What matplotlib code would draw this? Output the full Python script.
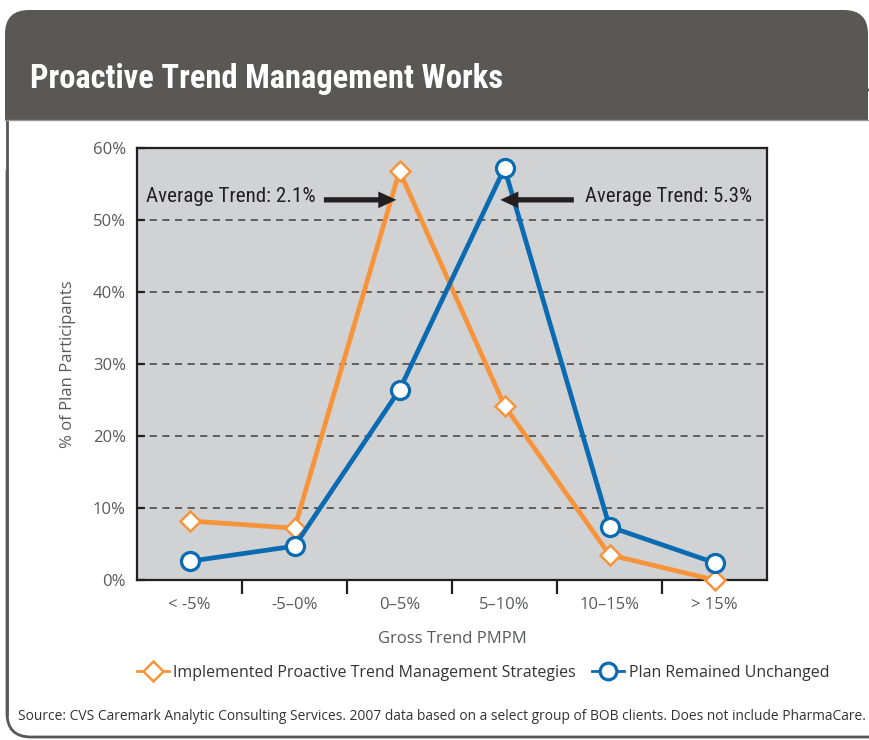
import matplotlib
matplotlib.use("Agg")
import matplotlib.pyplot as plt
from matplotlib.patches import FancyBboxPatch, Rectangle
from matplotlib.lines import Line2D
import matplotlib.font_manager as fm

categories = ["< -5%", "-5–0%", "0–5%", "5–10%", "10–15%", "> 15%"]
implemented = [8.2, 7.2, 56.8, 24.2, 3.5, 0.0]
unchanged = [2.6, 4.7, 26.4, 57.2, 7.4, 2.4]
yticks = [0, 10, 20, 30, 40, 50, 60]
ytick_labels = ["0%", "10%", "20%", "30%", "40%", "50%", "60%"]
avg_implemented = "Average Trend: 2.1%"
avg_unchanged = "Average Trend: 5.3%"
series_names = ["Implemented Proactive Trend Management Strategies", "Plan Remained Unchanged"]
title = "Proactive Trend Management Works"
source = ("Source: CVS Caremark Analytic Consulting Services. 2007 data based on a select "
          "group of BOB clients. Does not include PharmaCare.")

ORANGE = "#f7943a"
BLUE = "#0a6bb3"
DARK = "#231f20"
GREY_TXT = "#58595b"
FRAME = "#58585a"

# pick the narrowest available family for condensed headline text
ttf = fm.fontManager.ttflist
names = {f.name for f in ttf}
narrow, narrow_stretch = None, "normal"
for cand in ["Roboto Condensed", "Liberation Sans Narrow", "Open Sans Condensed",
             "Noto Sans Condensed", "DejaVu Sans Condensed"]:
    if cand in names:
        narrow = cand
        break
if narrow is None:
    for f in ttf:
        if "condensed" in str(f.stretch) and f.name in ("Noto Sans", "Open Sans", "Roboto", "DejaVu Sans"):
            narrow, narrow_stretch = f.name, "condensed"
            break
if narrow is None:
    narrow = "Roboto" if "Roboto" in names else "DejaVu Sans"
body = "Open Sans" if "Open Sans" in names else "DejaVu Sans"
plt.rcParams["font.family"] = [body, "DejaVu Sans"]

W, H = 869, 740
fig = plt.figure(figsize=(W / 100, H / 100), dpi=100)

# background frame in pixel coordinates
bg = fig.add_axes([0, 0, 1, 1], zorder=0)
bg.set_xlim(0, W)
bg.set_ylim(H, 0)
bg.axis("off")
panel = FancyBboxPatch((7, 90), 950, 647, boxstyle="round,pad=0,rounding_size=24",
                       facecolor="white", edgecolor=FRAME, linewidth=2)
bg.add_patch(panel)
header = FancyBboxPatch((5, 10), 863, 140, boxstyle="round,pad=0,rounding_size=24",
                        facecolor="#5a5854", edgecolor="none")
bg.add_patch(header)
bg.add_patch(Rectangle((0, 120), 900, 50, facecolor="white", edgecolor="none"))
bg.plot([7, 7], [119, 716], color=FRAME, lw=2, solid_capstyle="butt")
bg.plot([5, 869], [120, 120], color="#9a9896", lw=1)

texts_to_fit = []
t_title = bg.text(30, 79, title, color="white", fontsize=24, fontweight="bold",
                  family=[narrow, "DejaVu Sans"], stretch=narrow_stretch, va="center", ha="left")
texts_to_fit.append((t_title, 475))

# main plot
L, R, T, B = 137, 767, 148, 580
ax = fig.add_axes([L / W, (H - B) / H, (R - L) / W, (B - T) / H], zorder=2)
ax.set_facecolor("#d1d2d4")
x = list(range(len(categories)))
ax.set_xlim(-0.5, len(categories) - 0.5)
ax.set_ylim(0, 60)

for yv in yticks[1:-1]:
    ax.axhline(yv, color="#555555", lw=1.3, ls=(0, (4, 3)), zorder=1)

ax.plot(x, implemented, color=ORANGE, lw=3.4, marker="D", ms=10, mfc="white",
        mec=ORANGE, mew=1.8, zorder=3, clip_on=False)
ax.plot(x, unchanged, color=BLUE, lw=3.4, marker="o", ms=13, mfc="white",
        mec=BLUE, mew=2.3, zorder=4, clip_on=False)

for s in ax.spines.values():
    s.set_color(DARK)
    s.set_linewidth(1.6)

ax.set_yticks(yticks)
ax.set_yticklabels(ytick_labels)
ax.tick_params(axis="y", direction="in", length=6, width=1.6, color=DARK,
               labelcolor=GREY_TXT, labelsize=12, pad=8)
ax.set_xticks([i + 0.5 for i in x[:-1]])
ax.set_xticklabels([])
ax.set_xticks(x, minor=True)
ax.set_xticklabels(categories, minor=True)
ax.tick_params(axis="x", which="major", direction="out", length=10, width=1.6, color=DARK)
ax.tick_params(axis="x", which="minor", length=0, labelcolor=GREY_TXT, labelsize=12, pad=12)

ax.set_ylabel("% of Plan Participants", fontsize=12, color=GREY_TXT, labelpad=12)
ax.set_xlabel("Gross Trend PMPM", fontsize=12, color=GREY_TXT, labelpad=13)

# annotations
arrow_style = "simple,head_length=0.65,head_width=0.6,tail_width=0.19"
ax.annotate("", xy=(1.97, 52.8), xytext=(1.28, 52.8),
            arrowprops=dict(arrowstyle=arrow_style, lw=0, fc=DARK, ec="none",
                            shrinkA=0, shrinkB=0, mutation_scale=20), zorder=5)
ax.annotate("", xy=(2.96, 52.8), xytext=(3.66, 52.8),
            arrowprops=dict(arrowstyle=arrow_style, lw=0, fc=DARK, ec="none",
                            shrinkA=0, shrinkB=0, mutation_scale=20), zorder=5)
t1 = ax.text(-0.41, 53.3, avg_implemented, fontsize=15, color=DARK, va="center", ha="left",
             family=[narrow, "DejaVu Sans"], stretch=narrow_stretch, zorder=5)
t2 = ax.text(3.77, 53.3, avg_unchanged, fontsize=15, color=DARK, va="center", ha="left",
             family=[narrow, "DejaVu Sans"], stretch=narrow_stretch, zorder=5)
texts_to_fit.append((t1, 170))
texts_to_fit.append((t2, 167))

handles = [
    Line2D([], [], color=ORANGE, lw=2, marker="D", ms=10, mfc="white", mec=ORANGE, mew=1.8),
    Line2D([], [], color=BLUE, lw=2, marker="o", ms=12, mfc="white", mec=BLUE, mew=2.3),
]
fig.legend(handles, series_names,
           loc="center", bbox_to_anchor=(483 / W, 1 - 673 / H), ncol=2, frameon=False,
           fontsize=11.5, handlelength=2.0, handletextpad=0.3, columnspacing=1.0,
           labelcolor="#333333")

t_src = fig.text(18 / W, 1 - 716 / H, source, fontsize=9.2, color="#333333",
                 va="center", ha="left")
texts_to_fit.append((t_src, 848))

# scale headline/annotation/source font sizes to the reference widths
fig.canvas.draw()
r = fig.canvas.get_renderer()
for t, target in texts_to_fit:
    w = t.get_window_extent(r).width
    t.set_fontsize(t.get_fontsize() * target / w)

fig.savefig("out.png", dpi=100)
